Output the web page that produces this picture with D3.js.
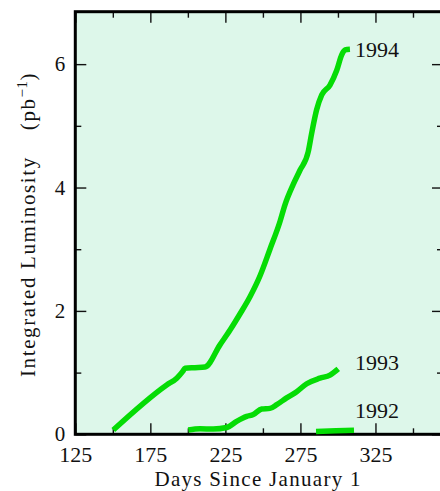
<!DOCTYPE html>
<html>
<head>
<meta charset="utf-8">
<script src="https://cdn.jsdelivr.net/npm/d3@7"></script>
<style>
  html, body { margin: 0; padding: 0; background: #fff; }
  svg { display: block; }
  text { font-family: "Liberation Serif", "Times New Roman", serif; fill: #111; }
</style>
</head>
<body>
<svg id="chart" width="440" height="491"></svg>
<script>
// Integrated luminosity delivered per running year, by day of year
const days1994 = [150.3, 185.9, 192.6, 196.6, 198.1, 204.7, 211.4, 221.4, 228.1, 234.7, 241.4, 248.1, 254.7, 261.4, 264.7, 270.2, 274.7, 280.2, 282.5, 285.8, 289.2, 294.7, 299.2, 302.5, 304.7, 308.0];
const lumi1994 = [0.07, 0.80, 0.91, 1.02, 1.07, 1.08, 1.09, 1.45, 1.69, 1.95, 2.23, 2.57, 3.00, 3.45, 3.72, 4.05, 4.28, 4.58, 4.88, 5.26, 5.50, 5.66, 5.90, 6.15, 6.23, 6.24];

const days1993 = [200.3, 208.1, 216.9, 225.9, 232.5, 239.2, 243.6, 249.2, 254.7, 259.2, 265.8, 272.5, 279.2, 288.0, 294.7, 300.2];
const lumi1993 = [0.07, 0.09, 0.085, 0.11, 0.21, 0.29, 0.32, 0.41, 0.42, 0.48, 0.59, 0.69, 0.82, 0.91, 0.96, 1.06];

const days1992 = [285.4, 298.7, 310.7];
const lumi1992 = [0.045, 0.057, 0.065];

const yearLabels = ["1994", "1993", "1992"];
const xMajorTicks = [125, 175, 225, 275, 325];
const xMinorTicks = [150, 200, 250, 300, 350];
const yMajorTicks = [0, 2, 4, 6];
const yMinorTicks = [1, 3, 5];

const svg = d3.select("#chart");
const plotLeft = 75.3, plotRight = 443, plotTop = 11.7, plotBottom = 434.3;

const x = d3.scaleLinear().domain([125, 370]).range([plotLeft, plotRight]);
const y = d3.scaleLinear().domain([0, 6.85]).range([plotBottom, plotTop]);

// plot area
svg.append("rect")
  .attr("x", plotLeft).attr("y", plotTop)
  .attr("width", plotRight - plotLeft).attr("height", plotBottom - plotTop)
  .attr("fill", "#ddf7ea");

// inward ticks on all four sides
function ticks(axis, values, size, label) {
  return axis.tickValues(values).tickSize(size).tickPadding(label ? 12 : 0)
    .tickFormat(label ? d3.format("d") : () => "");
}
const gx = svg.append("g").attr("transform", `translate(0,${plotBottom})`)
  .call(ticks(d3.axisBottom(x), xMajorTicks, -11, true));
svg.append("g").attr("transform", `translate(0,${plotBottom})`)
  .call(ticks(d3.axisBottom(x), xMinorTicks, -6, false));
svg.append("g").attr("transform", `translate(0,${plotTop})`)
  .call(ticks(d3.axisTop(x), xMajorTicks, -11, false));
svg.append("g").attr("transform", `translate(0,${plotTop})`)
  .call(ticks(d3.axisTop(x), xMinorTicks, -6, false));
const gy = svg.append("g").attr("transform", `translate(${plotLeft},0)`)
  .call(ticks(d3.axisLeft(y), yMajorTicks, -11, true).tickPadding(10));
svg.append("g").attr("transform", `translate(${plotLeft},0)`)
  .call(ticks(d3.axisLeft(y), yMinorTicks, -6, false));
svg.append("g").attr("transform", `translate(${plotRight},0)`)
  .call(ticks(d3.axisRight(y), yMajorTicks, -11, false));
svg.append("g").attr("transform", `translate(${plotRight},0)`)
  .call(ticks(d3.axisRight(y), yMinorTicks, -6, false));

svg.selectAll(".domain").remove();
svg.selectAll(".tick line").attr("stroke", "#111").attr("stroke-width", 1.4);
svg.selectAll(".tick text").attr("font-family", null).attr("fill", "#111");
gx.selectAll(".tick text").attr("font-size", 22);
gy.selectAll(".tick text").attr("font-size", 21).attr("dy", "0.31em");

// frame
svg.append("rect")
  .attr("x", plotLeft).attr("y", plotTop)
  .attr("width", plotRight - plotLeft).attr("height", plotBottom - plotTop)
  .attr("fill", "none").attr("stroke", "#000").attr("stroke-width", 3);

// luminosity curves
const line = d3.line().x(d => x(d[0])).y(d => y(d[1])).curve(d3.curveMonotoneX);
const series = [
  [days1994, lumi1994],
  [days1993, lumi1993],
  [days1992, lumi1992]
];
svg.append("g").selectAll("path")
  .data(series)
  .join("path")
  .attr("d", s => line(d3.zip(s[0], s[1])))
  .attr("fill", "none")
  .attr("stroke", "#05dc05")
  .attr("stroke-width", 5.5)
  .attr("stroke-linejoin", "round")
  .attr("stroke-linecap", "butt");

// year labels, placed in data units
const labelPos = [[311.4, 6.12], [311.4, 1.04], [311.4, 0.26]];
svg.append("g").selectAll("text")
  .data(yearLabels)
  .join("text")
  .attr("x", (d, i) => x(labelPos[i][0]))
  .attr("y", (d, i) => y(labelPos[i][1]))
  .attr("font-size", 22)
  .text(d => d);

// axis titles
svg.append("text")
  .attr("x", (plotLeft + plotRight) / 2 - 1)
  .attr("y", 486)
  .attr("text-anchor", "middle")
  .attr("font-size", 21)
  .attr("letter-spacing", 1.3)
  .text("Days Since January 1");

const yt = svg.append("text")
  .attr("transform", "translate(35,377) rotate(-90)")
  .attr("font-size", 21)
  .attr("letter-spacing", 1.6);
yt.append("tspan").text("Integrated Luminosity");
yt.append("tspan").attr("dx", 26).text("(pb");
yt.append("tspan").attr("dy", -8).attr("font-size", 15).attr("letter-spacing", 0.5).text("−1");
yt.append("tspan").attr("dy", 8).text(")");
</script>
</body>
</html>
